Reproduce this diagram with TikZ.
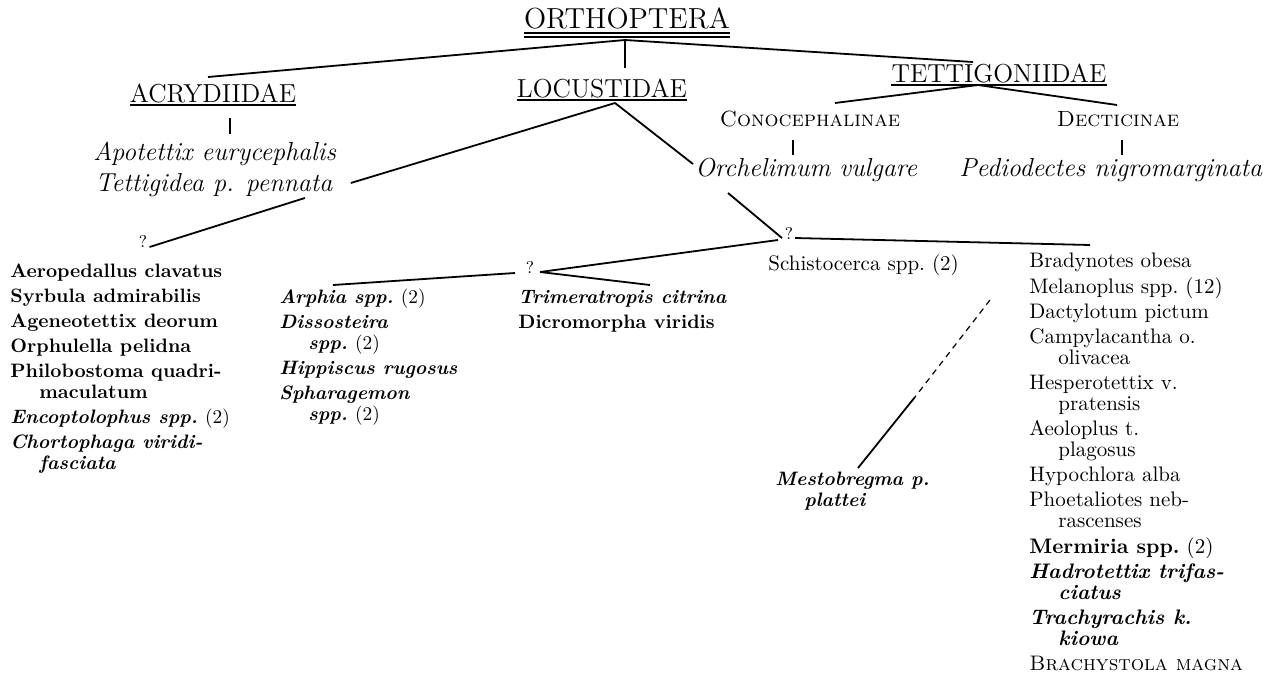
\documentclass[tikz,border=0pt]{standalone}
\usepackage{fontspec}
\usetikzlibrary{calc}

\newcommand\contind{\hspace*{14.5pt}}
\newcommand\entrylist[1]{\begin{tabular}[t]{@{}l@{}}#1\end{tabular}}

\tikzset{
  txt/.style={inner sep=0pt, anchor=base west},
  ordername/.style={inner sep=0pt, anchor=base, font=\fontsize{14.5}{16}\selectfont},
  famname/.style={inner sep=0pt, anchor=base, font=\fontsize{13}{15}\selectfont},
  subfam/.style={inner sep=0pt, anchor=base, font=\fontsize{11}{13}\selectfont\scshape},
  species/.style={txt, font={\fontsize{13}{15}\selectfont\itshape\addfontfeatures{LetterSpace=10}}},
  qmark/.style={inner sep=0pt, anchor=base, font=\fontsize{8.5}{9}\selectfont},
  boldlist/.style={txt, font=\fontsize{9.7}{10.5}\selectfont\bfseries},
  romlist/.style={txt, font=\fontsize{10.5}{10.5}\selectfont},
  branch/.style={line width=0.9pt},
  bar/.style={line width=0.6pt}
}

\begin{document}
\begin{tikzpicture}[x=0.5pt,y=-0.5pt]
  \useasboundingbox (0,0) rectangle (1265,675);

  % order and families
  \node[ordername] (ortho) at (627,28) {ORTHOPTERA};
  \draw[line width=0.8pt] ([yshift=-2.5pt]ortho.base west) -- ([yshift=-2.5pt]ortho.base east);
  \draw[line width=1.1pt] ([yshift=-4.6pt]ortho.base west) -- ([yshift=-4.6pt]ortho.base east);

  \node[famname] (acry) at (213,102) {ACRYDIIDAE};
  \node[famname] (locust) at (602,97) {LOCUSTIDAE};
  \node[famname] (tettig) at (999,82) {TETTIGONIIDAE};
  \foreach \f in {acry,locust,tettig}
  \draw[line width=0.7pt] ([yshift=-1.5pt]\f.base west) -- ([yshift=-1.5pt]\f.base east);

  \node[subfam] (conoc) at (810,126) {Conocephalinae};
  \node[subfam] (dectic) at (1118,126) {Decticinae};

  % species
  \node[species] (apot) at (93,160) {Apotettix eurycephalis};
  \node[species] (tettp) at (95,191) {Tettigidea p. pennata};
  \node[species] (orchel) at (695,176) {Orchelimum vulgare};
  \node[species] (pedio) at (959,176) {Pediodectes nigromarginata};

  \node[qmark] (q1) at (143,247) {?};
  \node[qmark] (q2) at (530,273) {?};
  \node[qmark] (q3) at (789,239) {?};

  \node[boldlist] (aeropcol) at (10,277) {\entrylist{Aeropedallus clavatus\\[2pt]
    Syrbula admirabilis\\[2pt]
    Ageneotettix deorum\\[2pt]
    Orphulella pelidna\\[2pt]
    Philobostoma quadri-\\
    \contind maculatum\\[2pt]
    \textit{Encoptolophus spp.}\ {\mdseries (2)}\\[2pt]
    \textit{Chortophaga viridi-}\\
    \contind\textit{fasciata}}};

  \node[boldlist] (arphcol) at (279,303) {\entrylist{\textit{Arphia spp.}\ {\mdseries (2)}\\[2pt]
    \textit{Dissosteira}\\
    \contind\textit{spp.}\ {\mdseries (2)}\\[2pt]
    \textit{Hippiscus rugosus}\\[2pt]
    \textit{Spharagemon}\\
    \contind\textit{spp.}\ {\mdseries (2)}}};

  \node[boldlist] (trimcol) at (518,303) {\entrylist{\textit{Trimeratropis citrina}\\[2pt]
    Dicromorpha viridis}};

  \node[romlist] (schist) at (768,270) {Schistocerca spp.\ (2)};

  \node[romlist] (bradcol) at (1029,267) {\entrylist{Bradynotes obesa\\[2pt]
    Melanoplus spp.\ (12)\\[2pt]
    Dactylotum pictum\\[2pt]
    Campylacantha o.\\
    \contind olivacea\\[2pt]
    Hesperotettix v.\\
    \contind pratensis\\[2pt]
    Aeoloplus t.\\
    \contind plagosus\\[2pt]
    Hypochlora alba\\[2pt]
    Phoetaliotes neb-\\
    \contind rascenses\\[2pt]
    \textbf{Mermiria spp.}\ (2)\\[2pt]
    \textbf{\textit{Hadrotettix trifas-}}\\
    \contind\textbf{\textit{ciatus}}\\[2pt]
    \textbf{\textit{Trachyrachis k.}}\\
    \contind\textbf{\textit{kiowa}}\\[2pt]
    \textsc{Brachystola magna}}};

  \node[boldlist] (mesto) at (775,485) {\entrylist{\textit{Mestobregma p.}\\
    \contind\textit{plattei}}};

  % branches
  \coordinate (orthoJ) at ($(ortho.base)+(-2,12)$);
  \draw[branch] (orthoJ) -- ($(acry.base)+(-5,-25)$);
  \draw[branch] (orthoJ) -- ($(locust.base)+(23,-29)$);
  \draw[branch] (orthoJ) -- ($(tettig.base)+(-26,-20)$);

  \draw[bar] ($(acry.base)+(17,16)$) -- ($(acry.base)+(17,32)$);

  \coordinate (locustJ) at ($(locust.base)+(13,6)$);
  \draw[branch] (locustJ) -- ($(tettp.base east)+(18,-8)$);
  \draw[branch] (locustJ) -- ($(orchel.base west)+(-2,-12)$);
  \draw[branch] ($(tettp.base east)+(-28,7)$) -- ($(q1.base east)+(2,0)$);

  \coordinate (tettigJ) at ($(tettig.base)+(-21,3)$);
  \draw[branch] (tettigJ) -- ($(conoc.base)+(25,-23)$);
  \draw[branch] (tettigJ) -- ($(dectic.base)+(-1,-21)$);
  \draw[bar] ($(conoc.base)+(-17,14)$) -- ($(conoc.base)+(-17,29)$);
  \draw[bar] ($(dectic.base)+(4,14)$) -- ($(dectic.base)+(4,29)$);

  \draw[branch] ($(orchel.base west)+(33,17)$) -- ($(q3.base)+(-7,-1)$);
  \draw[branch] ($(q3.base)+(6,-1)$) -- ($(bradcol.base west)+(61,-22)$);
  \draw[branch] ($(q3.base)+(-11,1)$) -- ($(q2.base)+(10,-1)$);
  \draw[branch] ($(q2.base)+(-15,0)$) -- ($(arphcol.base west)+(54,-18)$);
  \draw[branch] ($(q2.base)+(10,-1)$) -- ($(trimcol.base west)+(132,-18)$);

  \coordinate (mestoTop) at ($(mesto.base west)+(215,-185)$);
  \coordinate (mestoMid) at ($(mesto.base west)+(140,-88)$);
  \draw[line width=0.6pt, dash pattern=on 3pt off 2.5pt] (mestoTop) -- (mestoMid);
  \draw[branch] (mestoMid) -- ($(mesto.base west)+(83,-17)$);
\end{tikzpicture}
\end{document}
